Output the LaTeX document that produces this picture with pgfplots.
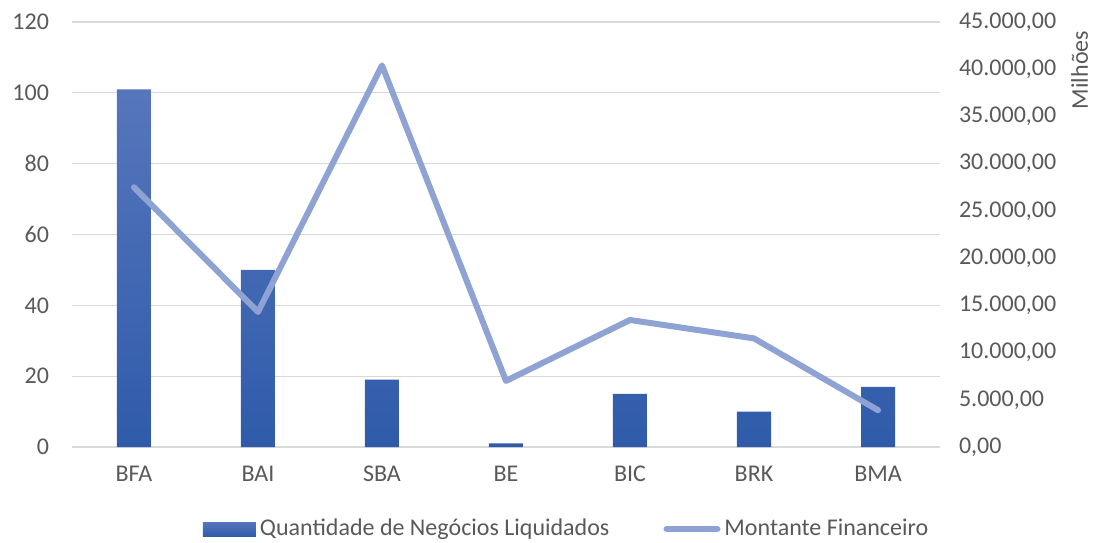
\documentclass[border=0pt]{standalone}
\usepackage{pgfplots}
\pgfplotsset{compat=1.18}
\usepackage{fontspec}
\setmainfont{Carlito}
\definecolor{barc}{HTML}{2F5BAA}
\definecolor{bartop}{HTML}{5676BC}
\definecolor{linec}{HTML}{8EA3D4}
\definecolor{gridc}{HTML}{D9D9D9}
\definecolor{txt}{HTML}{595959}
\begin{document}
\begin{tikzpicture}[font=\fontsize{12pt}{14pt}\selectfont]
\path[use as bounding box] (-36pt,-47.5pt) rectangle (510.5pt,223.5pt);
\begin{axis}[
  at={(0,0)}, anchor=south west,
  scale only axis, width=434pt, height=212.5pt,
  xmin=-0.5, xmax=6.5, ymin=0, ymax=120,
  xtick={0,...,6}, xticklabels={BFA,BAI,SBA,BE,BIC,BRK,BMA},
  ytick={0,20,...,120},
  ymajorgrids, grid style={gridc, line width=0.6pt},
  axis line style={draw=none}, major tick length=0pt,
  tick label style={text=txt},
  xticklabel style={yshift=-6pt},
  yticklabel style={xshift=-8pt},
  /pgf/number format/assume math mode=true,
]
\draw[gridc, line width=0.8pt] (axis cs:-0.5,0) -- (axis cs:6.5,0);
\addplot[ybar, bar width=17pt, draw=none, top color=bartop, bottom color=barc, forget plot]
  coordinates {(0,101) (1,50) (2,19) (3,1) (4,15) (5,10) (6,17)};
\end{axis}
\begin{axis}[
  at={(0,0)}, anchor=south west,
  scale only axis, width=434pt, height=212.5pt,
  xmin=-0.5, xmax=6.5, ymin=0, ymax=45000,
  clip=false,
  axis y line*=right, axis x line=none,
  axis line style={draw=none}, major tick length=0pt,
  scaled y ticks=false,
  ytick={0,5000,...,45000},
  yticklabels={{0,00},{5.000,00},{10.000,00},{15.000,00},{20.000,00},{25.000,00},{30.000,00},{35.000,00},{40.000,00},{45.000,00}},
  tick label style={text=txt},
  yticklabel style={xshift=6pt},
  legend style={at={(axis description cs:0.571,-0.193)}, anchor=center, draw=none, fill=none,
    legend columns=2, /tikz/every even column/.append style={column sep=25pt},
    text=txt, font=\fontsize{12pt}{14pt}\selectfont},
]
\addlegendimage{legend image code/.code={\fill[top color=bartop, bottom color=barc, draw=none] (0pt,-3.5pt) rectangle (26.5pt,3.5pt);}}
\addlegendentry{Quantidade de Negócios Liquidados}
\addplot[linec, line width=3pt, line cap=round, line join=round,
  legend image code/.code={\draw[linec, line width=3pt, line cap=round] (1pt,0pt) -- (26.5pt,0pt);}]
  coordinates {(0,27500) (1,14300) (2,40400) (3,7000) (4,13450) (5,11500) (6,3900)};
\addlegendentry{Montante Financeiro}
\node[rotate=90, text=txt] at (axis description cs:1.161,0.887) {Milhões};
\end{axis}
\end{tikzpicture}
\end{document}
